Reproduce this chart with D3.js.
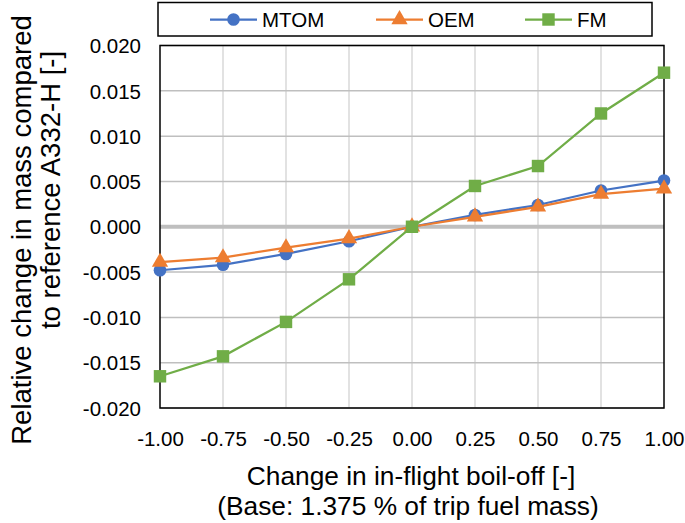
<!DOCTYPE html>
<html><head><meta charset="utf-8">
<script src="https://cdn.jsdelivr.net/npm/d3@7"></script>
<style>body{margin:0;background:#fff}svg{display:block;font-family:"Liberation Sans",Arial,sans-serif}</style>
</head><body>
<svg id="c" width="685" height="523"></svg>
<script>
const xValues = [-1.00, -0.75, -0.50, -0.25, 0.00, 0.25, 0.50, 0.75, 1.00];
const mtom = [-0.0048, -0.0042, -0.0030, -0.0016, 0.0000, 0.0013, 0.0024, 0.0040, 0.0051];
const oem  = [-0.0039, -0.0034, -0.0023, -0.0013, 0.0000, 0.0011, 0.0022, 0.0036, 0.0042];
const fm   = [-0.0165, -0.0143, -0.0105, -0.0058, 0.0000, 0.0045, 0.0067, 0.0125, 0.0170];
const yTicks = [-0.020, -0.015, -0.010, -0.005, 0.000, 0.005, 0.010, 0.015, 0.020];
const seriesNames = ["MTOM", "OEM", "FM"];
const colors = ["#4472C4", "#ED7D31", "#70AD47"];
const markers = ["circle", "triangle", "square"];

const FONT = "Liberation Sans, Arial, sans-serif";
const svg = d3.select("#c");
const L = 160, R = 664, T = 45.5, B = 408;
const x = d3.scaleLinear().domain([-1, 1]).range([L, R]);
const y = d3.scaleLinear().domain([-0.02, 0.02]).range([B, T]);

// gridlines
svg.append("g").selectAll("line").data(xValues.slice(1, -1)).join("line")
  .attr("x1", d => x(d)).attr("x2", d => x(d)).attr("y1", T).attr("y2", B)
  .attr("stroke", "#d9d9d9").attr("stroke-width", 1.5);
svg.append("g").selectAll("line").data(yTicks.filter(d => d !== 0)).join("line")
  .attr("x1", L).attr("x2", R).attr("y1", d => y(d)).attr("y2", d => y(d))
  .attr("stroke", "#bfbfbf").attr("stroke-width", 1.5);
svg.append("line").attr("x1", L).attr("x2", R).attr("y1", y(0)).attr("y2", y(0))
  .attr("stroke", "#bfbfbf").attr("stroke-width", 4);

// plot border
svg.append("rect").attr("x", L).attr("y", T).attr("width", R - L).attr("height", B - T)
  .attr("fill", "none").attr("stroke", "#000").attr("stroke-width", 1.5);

// axes
const yAxis = d3.axisLeft(y).tickValues(yTicks).tickFormat(d => d.toFixed(3)).tickSize(0).tickPadding(19);
const gy = svg.append("g").attr("transform", `translate(${L},0)`).call(yAxis);
const xAxis = d3.axisBottom(x).tickValues(xValues).tickFormat(d => d.toFixed(2)).tickSize(0).tickPadding(23);
const gx = svg.append("g").attr("transform", `translate(0,${B})`).call(xAxis);
[gx, gy].forEach(g => {
  g.select(".domain").remove();
  g.selectAll("text").attr("font-size", 20.5).attr("fill", "#000").attr("font-family", FONT);
});
gy.selectAll("text").attr("dy", "0.35em");

const sym = {
  circle: d3.symbol(d3.symbolCircle, 125),
  triangle: d3.symbol(d3.symbolTriangle, 115),
  square: d3.symbol(d3.symbolSquare, 155)
};

const data = [mtom, oem, fm];
const line = d3.line().x((d, i) => x(xValues[i])).y(d => y(d));
data.forEach((vals, k) => {
  const g = svg.append("g");
  g.append("path").attr("d", line(vals)).attr("fill", "none")
    .attr("stroke", colors[k]).attr("stroke-width", 2.25);
  g.selectAll("path.m").data(vals).join("path").attr("class", "m")
    .attr("d", sym[markers[k]]())
    .attr("transform", (d, i) => `translate(${x(xValues[i])},${y(d)})`)
    .attr("fill", colors[k]);
});

// axis titles
const XF = 26.3, YF = 27.5;
svg.append("text").attr("x", 411).attr("y", 485).attr("text-anchor", "middle")
  .attr("font-size", XF).attr("font-family", FONT).text("Change in in-flight boil-off [-]");
svg.append("text").attr("x", 408).attr("y", 515).attr("text-anchor", "middle")
  .attr("font-size", XF).attr("font-family", FONT).text("(Base: 1.375 % of trip fuel mass)");
const yt = svg.append("g").attr("transform", "rotate(-90)");
yt.append("text").attr("x", -230).attr("y", 31).attr("text-anchor", "middle")
  .attr("font-size", YF).attr("font-family", FONT).text("Relative change in mass compared");
yt.append("text").attr("x", -190).attr("y", 60).attr("text-anchor", "middle")
  .attr("font-size", YF).attr("font-family", FONT).text("to reference A332-H [-]");

// legend
const lg = svg.append("g");
lg.append("rect").attr("x", 158).attr("y", 2.5).attr("width", 494).attr("height", 33.5)
  .attr("fill", "#fff").attr("stroke", "#000").attr("stroke-width", 1.5);
const legX = [210, 376, 525];
seriesNames.forEach((n, k) => {
  lg.append("line").attr("x1", legX[k]).attr("x2", legX[k] + 47).attr("y1", 19.5).attr("y2", 19.5)
    .attr("stroke", colors[k]).attr("stroke-width", 2.25);
  lg.append("path").attr("d", sym[markers[k]]()).attr("fill", colors[k])
    .attr("transform", `translate(${legX[k] + 23.5},19.5)`);
  lg.append("text").attr("x", legX[k] + 52).attr("y", 19.5).attr("dy", "0.35em")
    .attr("font-size", 20.5).attr("font-family", FONT).text(n);
});
</script>
</body></html>
